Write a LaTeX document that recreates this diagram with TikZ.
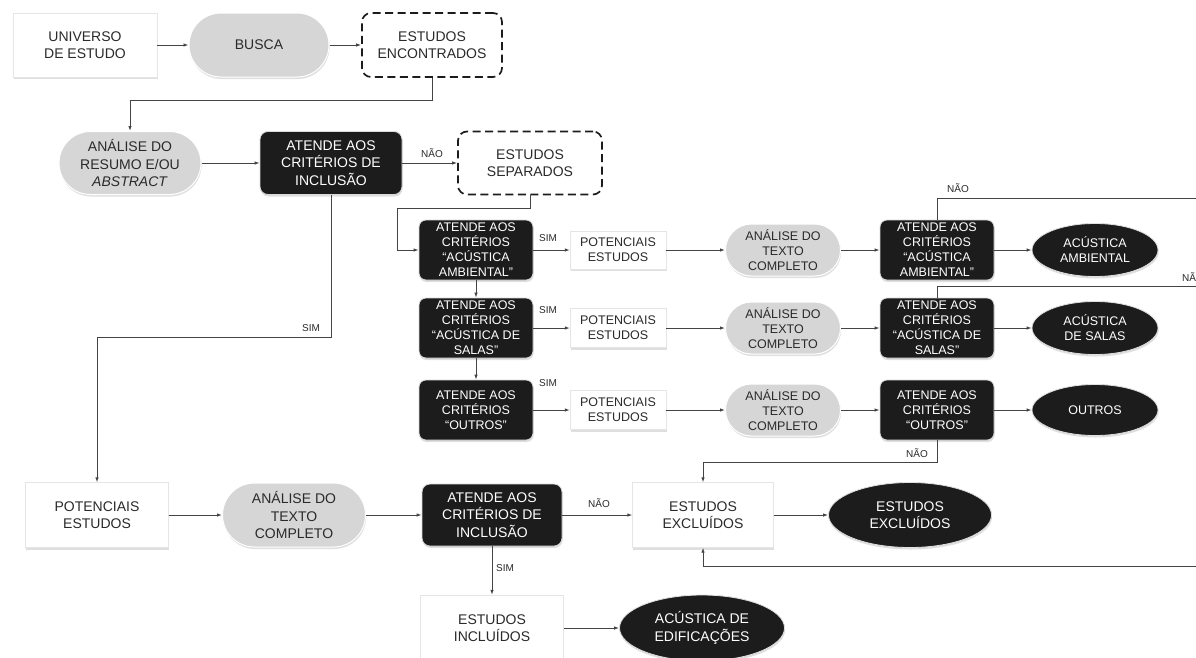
\documentclass[tikz,border=0pt]{standalone}
\usepackage{fontspec}
\setmainfont{Liberation Sans}
\usetikzlibrary{arrows.meta}
\usetikzlibrary{shapes.geometric}
\usetikzlibrary{shapes.misc}
\usetikzlibrary{shadows}

\definecolor{preto}{HTML}{1C1C1C}
\definecolor{cinza}{HTML}{D6D6D6}
\definecolor{linhacor}{HTML}{444444}
\definecolor{textocor}{HTML}{2A2A2A}

\newcommand{\fontegrande}{\fontsize{14}{17.5}\selectfont}
\newcommand{\fontepequena}{\fontsize{12.5}{15}\selectfont}
\newcommand{\fonterotulo}{\fontsize{10}{12}\selectfont}

\tikzset{
    sombra/.style={drop shadow={opacity=0.25, shadow xshift=0.6pt, shadow yshift=-2pt}},
    caixa/.style={rectangle, fill=white, draw=black!10, sombra, align=center, text=textocor, font=\fontegrande, inner sep=1pt},
    caixap/.style={caixa, font=\fontepequena},
    estadio/.style={rounded rectangle, fill=cinza, draw=white, line width=1pt, sombra, align=center, text=textocor, font=\fontegrande, inner sep=1pt},
    estadiop/.style={estadio, font=\fontepequena},
    tracejado/.style={rectangle, rounded corners=9pt, fill=white, draw=preto, line width=1.7pt, dash pattern=on 8pt off 4.5pt, align=center, text=textocor, font=\fontegrande},
    criterio/.style={rectangle, rounded corners=8pt, fill=preto, draw=black!15, line width=0.8pt, sombra, align=center, text=white, font=\fontegrande, inner sep=1pt},
    criteriop/.style={criterio, rounded corners=7pt, font=\fontepequena},
    elipse/.style={ellipse, fill=preto, draw=black!12, line width=0.8pt, sombra, align=center, text=white, font=\fontegrande, inner sep=1pt},
    elipsep/.style={elipse, font=\fontepequena},
    rotulo/.style={text=textocor, font=\fonterotulo, inner sep=1pt},
    linha/.style={draw=linhacor, line width=0.9pt},
    seta/.style={linha, -{Latex[length=5pt, width=3.5pt]}}
}

\begin{document}
\begin{tikzpicture}[x=1pt, y=-1pt]
    \useasboundingbox[fill=white] (0,0) rectangle (1196,657);

    % extremidades fora do quadro
    \coordinate (fimA) at (1196,198);
    \coordinate (fimB) at (1196,286);
    \coordinate (fimC) at (1196,566);

    % linha 1
    \node[caixa, minimum width=144pt, minimum height=64pt] (univ) at (85,45) {UNIVERSO\\DE ESTUDO};
    \node[estadio, minimum width=142pt, minimum height=64pt] (busca) at (259,45) {BUSCA};
    \node[tracejado, minimum width=140pt, minimum height=64pt] (encontr) at (432,45) {ESTUDOS\\ENCONTRADOS};

    % linha 2
    \node[estadio, minimum width=144pt, minimum height=63pt] (resumo) at (130,163) {AN\'ALISE DO\\RESUMO E/OU\\\textit{ABSTRACT}};
    \node[criterio, minimum width=142pt, minimum height=63pt] (incl1) at (331,163) {ATENDE AOS\\CRIT\'ERIOS DE\\INCLUS\~AO};
    \node[tracejado, minimum width=144pt, minimum height=63pt] (separ) at (530,163) {ESTUDOS\\SEPARADOS};

    % acustica ambiental
    \node[criteriop, minimum width=114pt, minimum height=60pt] (critA) at (476,250) {ATENDE AOS\\CRIT\'ERIOS\\“AC\'USTICA\\AMBIENTAL”};
    \node[caixap, minimum width=96pt, minimum height=38pt] (potA) at (618,250) {POTENCIAIS\\ESTUDOS};
    \node[estadiop, minimum width=117pt, minimum height=52pt] (textoA) at (783,250) {AN\'ALISE DO\\TEXTO\\COMPLETO};
    \node[criteriop, minimum width=114pt, minimum height=60pt] (critA2) at (937,250) {ATENDE AOS\\CRIT\'ERIOS\\“AC\'USTICA\\AMBIENTAL”};
    \node[elipsep, minimum width=126pt, minimum height=53pt] (acA) at (1095,250) {AC\'USTICA\\AMBIENTAL};

    % acustica de salas
    \node[criteriop, minimum width=114pt, minimum height=60pt] (critB) at (476,328) {ATENDE AOS\\CRIT\'ERIOS\\“AC\'USTICA DE\\SALAS”};
    \node[caixap, minimum width=96pt, minimum height=39pt] (potB1) at (618,328) {POTENCIAIS\\ESTUDOS};
    \node[estadiop, minimum width=117pt, minimum height=52pt] (textoB1) at (783,328) {AN\'ALISE DO\\TEXTO\\COMPLETO};
    \node[criteriop, minimum width=114pt, minimum height=60pt] (critB2) at (937,328) {ATENDE AOS\\CRIT\'ERIOS\\“AC\'USTICA DE\\SALAS”};
    \node[elipsep, minimum width=126pt, minimum height=53pt] (acB) at (1095,328) {AC\'USTICA\\DE SALAS};

    % outros
    \node[criteriop, minimum width=114pt, minimum height=60pt] (critC) at (476,410) {ATENDE AOS\\CRIT\'ERIOS\\“OUTROS”};
    \node[caixap, minimum width=96pt, minimum height=39pt] (potC) at (618,410) {POTENCIAIS\\ESTUDOS};
    \node[estadiop, minimum width=117pt, minimum height=52pt] (textoC) at (783,410) {AN\'ALISE DO\\TEXTO\\COMPLETO};
    \node[criteriop, minimum width=114pt, minimum height=60pt] (critC2) at (937,410) {ATENDE AOS\\CRIT\'ERIOS\\“OUTROS”};
    \node[elipsep, minimum width=126pt, minimum height=51pt] (acC) at (1095,410) {OUTROS};

    % linha de baixo
    \node[caixa, minimum width=143pt, minimum height=65pt] (potB) at (97,515) {POTENCIAIS\\ESTUDOS};
    \node[estadio, minimum width=145pt, minimum height=64pt] (textoB) at (294,515) {AN\'ALISE DO\\TEXTO\\COMPLETO};
    \node[criterio, minimum width=140pt, minimum height=62pt] (incl2) at (492,515) {ATENDE AOS\\CRIT\'ERIOS DE\\INCLUS\~AO};
    \node[caixa, minimum width=141pt, minimum height=65pt] (excl) at (703,515) {ESTUDOS\\EXCLU\'IDOS};
    \node[elipse, minimum width=163pt, minimum height=65pt] (exclF) at (910,515) {ESTUDOS\\EXCLU\'IDOS};
    \node[caixa, minimum width=143pt, minimum height=66pt] (inclu) at (492,628) {ESTUDOS\\INCLU\'IDOS};
    \node[elipse, minimum width=165pt, minimum height=66pt] (edif) at (702,628) {AC\'USTICA DE\\EDIFICA\c{C}\~OES};

    % rotulos
    \node[rotulo] (naoA) at (432,153) {N\~AO};
    \node[rotulo] (simA) at (311,328) {SIM};
    \node[rotulo] (simB1) at (548,238) {SIM};
    \node[rotulo] (simB2) at (548,310) {SIM};
    \node[rotulo] (simB3) at (548,383) {SIM};
    \node[rotulo] (naoB1) at (958,188) {N\~AO};
    \node[rotulo, anchor=west] (naoB2) at (1181,277) {N\~AO};
    \node[rotulo] (naoB3) at (917,453) {N\~AO};
    \node[rotulo] (naoC) at (599,503) {N\~AO};
    \node[rotulo] (simC) at (505,568) {SIM};

    % conectores
    \draw[seta] (univ.east) -- (busca.west);
    \draw[seta] (busca.east) -- (encontr.west);
    \draw[seta] (encontr.south) -- ++(0,23) -| (resumo.north);
    \draw[seta] (resumo.east) -- (incl1.west);
    \draw[seta] (incl1.east) -- (separ.west);
    \draw[seta] (incl1.south) -- ++(0,143) -| (potB.north);
    \draw[seta] (separ.south) |- ++(-133,13) |- (critA.west);

    \draw[seta] (critA.south) -- (critB.north);
    \draw[seta] (critB.south) -- (critC.north);

    \draw[seta] (critA.east) -- (potA.west);
    \draw[seta] (potA.east) -- (textoA.west);
    \draw[seta] (textoA.east) -- (critA2.west);
    \draw[seta] (critA2.east) -- (acA.west);

    \draw[seta] (critB.east) -- (potB1.west);
    \draw[seta] (potB1.east) -- (textoB1.west);
    \draw[seta] (textoB1.east) -- (critB2.west);
    \draw[seta] (critB2.east) -- (acB.west);

    \draw[seta] (critC.east) -- (potC.west);
    \draw[seta] (potC.east) -- (textoC.west);
    \draw[seta] (textoC.east) -- (critC2.west);
    \draw[seta] (critC2.east) -- (acC.west);

    \draw[linha] (critA2.north) |- (fimA);
    \draw[linha] (critB2.north) |- (fimB);
    \draw[seta] (critC2.south) -- ++(0,22) -| (excl.north);
    \draw[seta] (fimC) -| (excl.south);

    \draw[seta] (potB.east) -- (textoB.west);
    \draw[seta] (textoB.east) -- (incl2.west);
    \draw[seta] (incl2.east) -- (excl.west);
    \draw[seta] (excl.east) -- (exclF.west);
    \draw[seta] (incl2.south) -- (inclu.north);
    \draw[seta] (inclu.east) -- (edif.west);
\end{tikzpicture}
\end{document}
